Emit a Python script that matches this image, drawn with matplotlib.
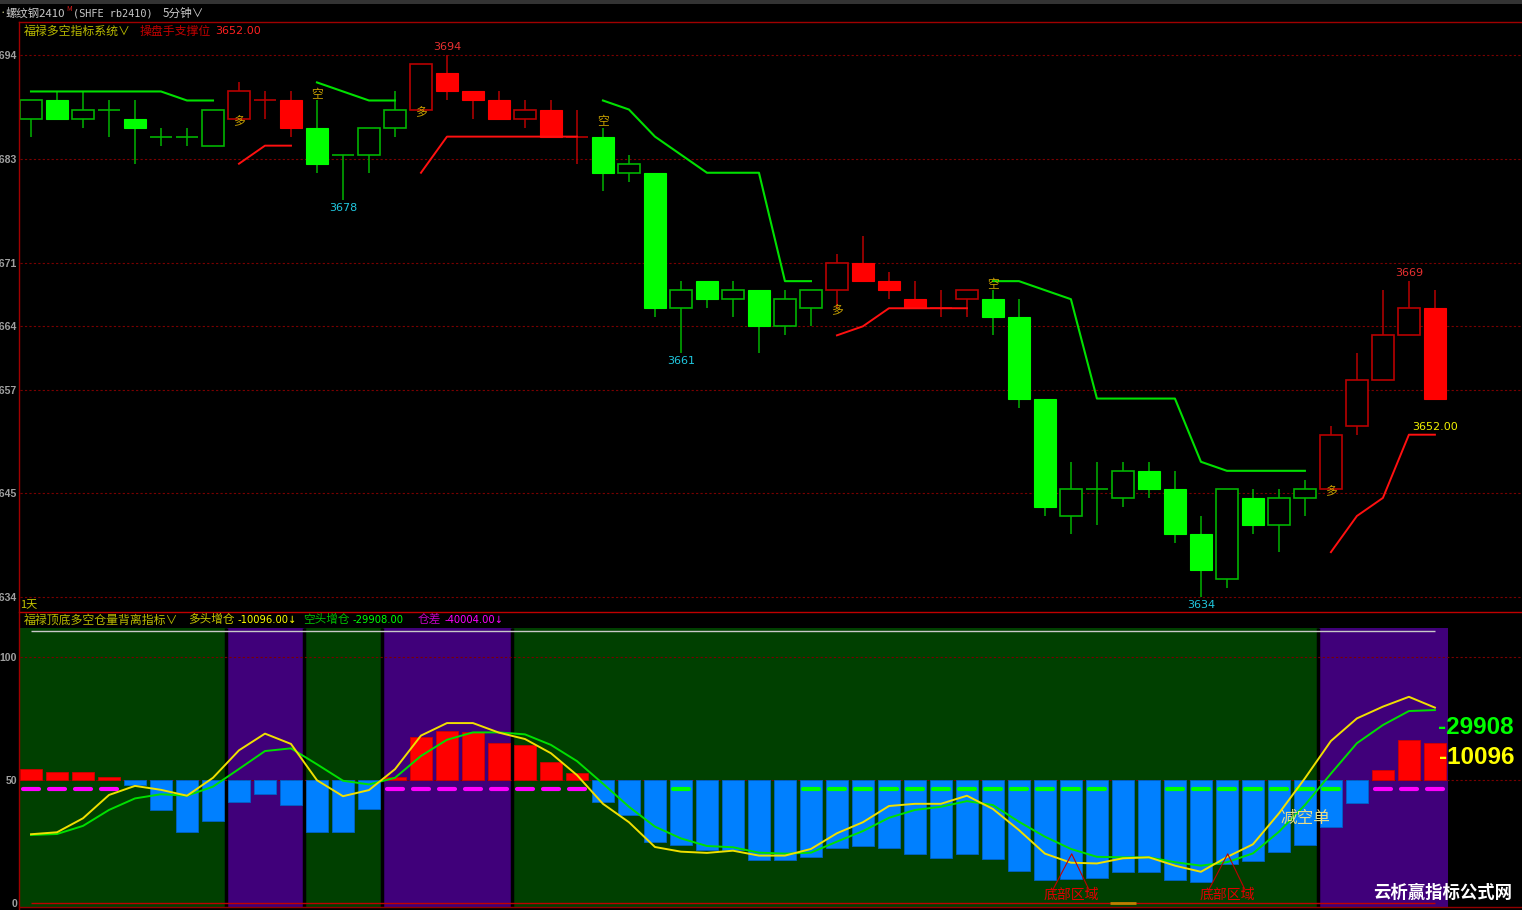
import matplotlib
matplotlib.use('Agg')
import matplotlib.pyplot as plt
from matplotlib.patches import Rectangle
from matplotlib.lines import Line2D
import numpy as np

plt.rcParams['font.family'] = ['Noto Sans CJK SC', 'DejaVu Sans']

# ---------------- data ----------------
opens  = [3687, 3689, 3687, 3688, 3687, 3685, 3685, 3684, 3687, 3689,
          3689, 3686, 3683, 3683, 3686, 3688, 3692, 3690, 3689, 3687,
          3688, 3685, 3685, 3681, 3681, 3666, 3669, 3667, 3668, 3664,
          3666, 3668, 3671, 3669, 3667, 3666, 3667, 3667, 3665, 3656,
          3643, 3646, 3645, 3648, 3646, 3641, 3636, 3645, 3642, 3645,
          3646, 3653, 3658, 3663, 3666]
highs  = [3689, 3690, 3690, 3689, 3689, 3686, 3686, 3688, 3691, 3690,
          3690, 3689, 3683, 3686, 3690, 3693, 3694, 3690, 3690, 3689,
          3689, 3688, 3686, 3683, 3681, 3669, 3669, 3669, 3668, 3668,
          3668, 3672, 3674, 3670, 3669, 3668, 3668, 3668, 3667, 3656,
          3649, 3649, 3649, 3649, 3648, 3643, 3646, 3646, 3646, 3647,
          3653, 3661, 3668, 3669, 3668]
lows   = [3685, 3687, 3686, 3685, 3682, 3684, 3684, 3684, 3687, 3687,
          3685, 3681, 3678, 3681, 3685, 3688, 3689, 3687, 3687, 3686,
          3685, 3682, 3679, 3680, 3665, 3661, 3666, 3665, 3661, 3663,
          3664, 3666, 3669, 3667, 3666, 3665, 3665, 3663, 3655, 3643,
          3641, 3642, 3644, 3645, 3640, 3634, 3635, 3641, 3639, 3643,
          3646, 3652, 3658, 3663, 3656]
closes = [3689, 3687, 3688, 3688, 3686, 3685, 3685, 3688, 3690, 3689,
          3686, 3682, 3683, 3686, 3688, 3693, 3690, 3689, 3687, 3688,
          3685, 3685, 3681, 3682, 3666, 3668, 3667, 3668, 3664, 3667,
          3668, 3671, 3669, 3668, 3666, 3666, 3668, 3665, 3656, 3644,
          3646, 3646, 3648, 3646, 3641, 3637, 3646, 3642, 3645, 3646,
          3652, 3658, 3663, 3666, 3656]
# 1 = long (多, red), 0 = short (空, green)
trend_state = [0]*8 + [1]*3 + [0]*4 + [1]*7 + [0]*9 + [1]*6 + [0]*13 + [1]*5

nan = np.nan
short_stop = [3690, 3690, 3690, 3690, 3690, 3690, 3689, 3689, nan, nan,
              nan, 3691, 3690, 3689, 3689, nan, nan, nan, nan, nan,
              nan, nan, 3689, 3688, 3685, 3683, 3681, 3681, 3681, 3669,
              3669, nan, nan, nan, nan, nan, nan, 3669, 3669, 3668,
              3667, 3656, 3656, 3656, 3656, 3649, 3648, 3648, 3648, 3648,
              nan, nan, nan, nan, nan]
long_stop = [nan, nan, nan, nan, nan, nan, nan, nan, 3682, 3684,
             3684, nan, nan, nan, nan, 3681, 3685, 3685, 3685, 3685,
             3685, 3685, nan, nan, nan, nan, nan, nan, nan, nan,
             nan, 3663, 3664, 3666, 3666, 3666, 3666, nan, nan, nan,
             nan, nan, nan, nan, nan, nan, nan, nan, nan, nan,
             3639, 3643, 3645, 3652, 3652]
long_signal_idx = [8, 15, 31, 50]     # 多
short_signal_idx = [11, 22, 37]       # 空
high_label_idx = [16, 53]
low_label_idx = [12, 25, 45]

price_ticks = [3634, 3645.5, 3657, 3664, 3671, 3682.5, 3694]
price_tick_labels = ['3634', '3645', '3657', '3664', '3671', '3683', '3694']

osc_bars = [54.4, 53.3, 53.3, 51.2, 48.1, 37.8, 28.8, 33.4, 41.2, 44.3,
            39.7, 28.8, 28.9, 38.3, 51.2, 67.5, 70.0, 69.4, 65.1, 64.3,
            57.5, 52.9, 41.2, 35.9, 24.9, 23.5, 21.6, 21.5, 17.4, 17.5,
            18.7, 22.4, 23.1, 22.4, 20.0, 18.3, 20.0, 17.8, 12.9, 9.4,
            9.7, 10.2, 12.4, 12.4, 9.1, 8.6, 15.6, 17.0, 20.5, 23.5,
            30.7, 40.5, 54.0, 66.4, 65.1]
yellow_line = [27.9, 28.7, 34.4, 43.9, 47.6, 46.0, 43.6, 50.9, 62.1, 68.9,
               64.7, 49.9, 43.4, 45.9, 54.4, 68.1, 73.2, 73.2, 69.3, 66.7,
               60.9, 52.0, 40.3, 32.8, 22.7, 20.8, 20.3, 21.2, 19.2, 19.2,
               21.9, 28.3, 32.8, 39.4, 40.3, 40.3, 43.6, 38.2, 29.6, 20.0,
               16.3, 16.0, 18.1, 18.5, 15.1, 12.6, 18.6, 23.8, 36.4, 50.7,
               65.9, 75.1, 79.9, 83.9, 79.5]
green_line = [27.6, 28.0, 31.3, 37.8, 42.5, 44.2, 43.6, 47.3, 54.5, 61.8,
              62.9, 56.4, 49.7, 48.2, 50.9, 59.8, 66.4, 69.4, 69.4, 68.6,
              64.3, 57.7, 48.5, 39.1, 31.0, 26.2, 23.1, 22.6, 20.4, 20.0,
              20.4, 24.9, 29.2, 34.6, 37.8, 39.1, 41.4, 39.8, 33.0, 26.9,
              21.9, 18.7, 18.5, 18.5, 16.5, 15.1, 16.5, 20.1, 28.9, 39.8,
              52.6, 65.0, 72.4, 78.1, 78.5]
# 1 = magenta dash, 2 = green dash, 0 = none
dash_flag = [1, 1, 1, 1, 0, 0, 0, 0, 0, 0,
             0, 0, 0, 0, 1, 1, 1, 1, 1, 1,
             1, 1, 0, 0, 0, 2, 0, 0, 0, 0,
             2, 2, 2, 2, 2, 2, 2, 2, 2, 2,
             2, 2, 0, 0, 2, 2, 2, 2, 2, 2,
             2, 0, 1, 1, 1]
dash_level = 46.3
purple_spans = [(8, 10), (14, 18), (50, 54)]
bottom_zone_idx = [40, 46]

long_add = -10096.00
short_add = -29908.00
oi_diff = -40004.00
support_price = 3652.00

# ---------------- layout ----------------
W, H = 1522, 910
fig = plt.figure(figsize=(W / 100, H / 100), dpi=100, facecolor='black')


def fx(x):
    return x / W


def fy(y):
    return 1 - y / H


n = len(opens)
xs = np.arange(n)
XL = (-0.423, 57.35)

ax1 = fig.add_axes([fx(20), fy(612), (W - 20) / W, (612 - 22) / H])
ax2 = fig.add_axes([fx(20), fy(910), (W - 20) / W, (910 - 612) / H])
for ax in (ax1, ax2):
    ax.set_facecolor('black')
    for s in ax.spines.values():
        s.set_visible(False)
    ax.set_xlim(*XL)
    ax.set_xticks([])
    ax.tick_params(axis='y', length=0, pad=2, labelcolor='#a0a0a0')

ax1.set_ylim(3632.37, 3697.69)
ax2.set_ylim(-2.97, 118.46)

ax1.set_yticks(price_ticks)
ax1.set_yticklabels(price_tick_labels, family='Liberation Sans', weight='bold', size=7.6)
ax2.set_yticks([0, 50, 100])
ax2.set_yticklabels(['0', '50', '100'], family='Liberation Sans', weight='bold', size=7.6)

grid_col = '#7a0000'
for t in price_ticks:
    ax1.axhline(t, color=grid_col, lw=0.8, ls=(0, (2, 2)), zorder=0.5)

# ---------------- candles ----------------
bw = 0.87
for i in range(n):
    o, h, l, c = opens[i], highs[i], lows[i], closes[i]
    if trend_state[i] == 1:
        fill_col, edge_col = '#ff0000', '#b80000'
    else:
        fill_col, edge_col = '#00ff00', '#00b400'
    top, bot = max(o, c), min(o, c)
    if c < o:
        ax1.vlines(i, l, h, color=edge_col, lw=1.1, zorder=2)
        ax1.add_patch(Rectangle((i - bw / 2, bot), bw, top - bot, facecolor=fill_col,
                                edgecolor=fill_col, lw=0.8, zorder=3))
    elif c > o:
        if h > top:
            ax1.vlines(i, top, h, color=edge_col, lw=1.1, zorder=2)
        if l < bot:
            ax1.vlines(i, l, bot, color=edge_col, lw=1.1, zorder=2)
        ax1.add_patch(Rectangle((i - bw / 2, bot), bw, top - bot, facecolor='black',
                                edgecolor=edge_col, lw=1.2, zorder=3))
    else:
        ax1.vlines(i, l, h, color=edge_col, lw=1.1, zorder=2)
        ax1.hlines(c, i - bw / 2, i + bw / 2, color=edge_col, lw=1.2, zorder=3)

ax1.plot(xs, short_stop, color='#00e000', lw=1.5, zorder=4)
ax1.plot(xs, long_stop, color='#ff1010', lw=1.4, zorder=4)

for i in long_signal_idx:
    ax1.text(i, lows[i] - 0.3, '多', color='#c8a000', fontsize=8.5, ha='center', va='center', zorder=6)
for i in short_signal_idx:
    ax1.text(i, highs[i] + 0.6, '空', color='#c8a000', fontsize=8.5, ha='center', va='center', zorder=6)
for i in high_label_idx:
    ax1.text(i, highs[i] + 0.9, f'{highs[i]}', color='#e83030', fontsize=8,
             family='DejaVu Sans', ha='center', va='center', zorder=6)
for i in low_label_idx:
    ax1.text(i, lows[i] - 0.85, f'{lows[i]}', color='#20c8e0', fontsize=8,
             family='DejaVu Sans', ha='center', va='center', zorder=6)
ax1.text(n - 1, support_price + 0.85, f'{support_price:.2f}', color='#f0f000', fontsize=8,
         family='DejaVu Sans', ha='center', va='center', zorder=6)
ax1.text(0.0, 0.012, '1天', transform=ax1.transAxes, color='#c8c800', fontsize=8,
         ha='left', va='center')

# ---------------- oscillator panel ----------------
bg_top, bg_bot = 111.94, -1.63
bg_right = 54.46
ax2.add_patch(Rectangle((XL[0], bg_bot), bg_right - XL[0], bg_top - bg_bot,
                        facecolor='#004000', edgecolor='none', zorder=0))
for a, b in purple_spans:
    ax2.add_patch(Rectangle((a - 0.46, bg_bot), (b + 0.5) - (a - 0.46), bg_top - bg_bot,
                            facecolor='#40007a', edgecolor='none', zorder=0.2))
    for edge in (a - 0.5, b + 0.5):
        if edge < bg_right - 0.1:
            ax2.vlines(edge, bg_bot, bg_top, color='black', lw=2.5, zorder=0.4)

ax2.hlines(110.7, 0, n - 1, color='#c8c8c8', lw=1.0, zorder=1)
for t in (100, 50):
    ax2.axhline(t, color=grid_col, lw=0.8, ls=(0, (2, 2)), zorder=0.5)

for i, v in enumerate(osc_bars):
    if v >= 50:
        ax2.add_patch(Rectangle((i - 0.43, 50), 0.86, v - 50, facecolor='#ff0000',
                                edgecolor='#d00000', lw=0.6, zorder=2))
    else:
        ax2.add_patch(Rectangle((i - 0.43, v), 0.86, 50 - v, facecolor='#0080ff',
                                edgecolor='#0062c8', lw=0.6, zorder=2))

for i, f in enumerate(dash_flag):
    if f:
        col = '#ff00ff' if f == 1 else '#00ff00'
        ax2.plot([i - 0.3, i + 0.3], [dash_level, dash_level], color=col, lw=3,
                 solid_capstyle='round', zorder=3)

ax2.plot(xs, green_line, color='#00e000', lw=1.4, zorder=4)
ax2.plot(xs, yellow_line, color='#f0e000', lw=1.4, zorder=5)
ax2.hlines(0, 0, n - 1, color='#c00000', lw=1.0, zorder=3)
ax2.hlines(0, 41.5, 42.5, color='#c08000', lw=2, zorder=3.5)

ax2.text(49.0, 34.5, '减空单', color='#e8dc88', fontsize=12, ha='center', va='center', zorder=6)
for i in bottom_zone_idx:
    ax2.plot([i - 0.7, i + 0.03, i + 0.7], [5.2, 19.9, 5.2], color='#c00000', lw=0.8, zorder=6)
    ax2.text(i, 3.2, '底部区域', color='#e00000', fontsize=10, ha='center', va='center', zorder=6)

num_x = (1514 - 20) / (W - 20)
ax2.text(num_x, 1 - (728 - 612) / (910 - 612), f'{short_add:.0f}',
         transform=ax2.transAxes, color='#00ff00', fontsize=17.5, weight='bold',
         family='Liberation Sans', ha='right', va='center', zorder=7)
ax2.text(num_x, 1 - (758 - 612) / (910 - 612), f'{long_add:.0f}',
         transform=ax2.transAxes, color='#ffff00', fontsize=17.5, weight='bold',
         family='Liberation Sans', ha='right', va='center', zorder=7)

# ---------------- frame lines & header ----------------
fig.add_artist(Rectangle((0, fy(4)), 1, 4 / H, transform=fig.transFigure,
                         facecolor='#333333', edgecolor='none'))
fig.add_artist(Line2D([fx(19), 1], [fy(22), fy(22)], color='#a00000', lw=1.0))
fig.add_artist(Line2D([fx(19), 1], [fy(612), fy(612)], color='#c00000', lw=1.0))
fig.add_artist(Line2D([fx(19), fx(19)], [fy(22), fy(910)], color='#a00000', lw=1.0))
fig.add_artist(Line2D([fx(19), 1], [fy(907), fy(907)], color='#900000', lw=1.0))


def T(x, y, s, **kw):
    kw.setdefault('va', 'center')
    kw.setdefault('ha', 'left')
    fig.text(fx(x), fy(y), s, **kw)


T(0, 13, '•', color='#e8e8a0', fontsize=4.5)
T(6, 13, '螺纹钢2410', color='#c8c8c8', fontsize=8.2)
T(66, 9, 'M', color='#e02020', fontsize=5)
T(73, 13, '(SHFE rb2410)', color='#c8c8c8', fontsize=7.4, family='DejaVu Sans Mono')
T(163, 13, '5分钟∨', color='#c8c8c8', fontsize=8.4)

T(24, 31, '福禄多空指标系统∨', color='#b8b800', fontsize=8.6)
T(140, 31, '操盘手支撑位', color='#c00000', fontsize=8.6)
T(215, 31, f'{support_price:.2f}', color='#ff2020', fontsize=8, family='DejaVu Sans')

T(24, 620, '福禄顶底多空仓量背离指标∨', color='#b8b800', fontsize=8.6)
T(188, 620, '多头增仓', color='#c8c800', fontsize=8.4)
T(238, 620, f'{long_add:.2f}↓', color='#ffff00', fontsize=7.2, family=['DejaVu Sans'])
T(303, 620, '空头增仓', color='#00c000', fontsize=8.4)
T(353, 620, f'{short_add:.2f}', color='#00ff00', fontsize=7.2, family=['DejaVu Sans'])
T(418, 620, '仓差', color='#c000c0', fontsize=8.4)
T(445, 620, f'{oi_diff:.2f}↓', color='#ff00ff', fontsize=7.2, family=['DejaVu Sans'])

T(1443, 893, '云析赢指标公式网', color='white', fontsize=12.5, weight='bold', ha='center')

fig.savefig('out.png', dpi=100, facecolor='black')
